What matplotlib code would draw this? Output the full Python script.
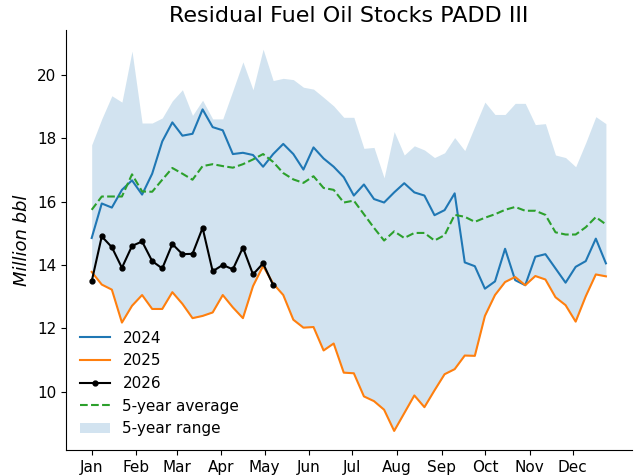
import numpy as np
import matplotlib
matplotlib.use("Agg")
import matplotlib.pyplot as plt

# weekly values, million bbl
y2024 = [14.85, 15.94, 15.81, 16.37, 16.67, 16.22, 16.88, 17.90, 18.50, 18.08,
         18.14, 18.91, 18.35, 18.25, 17.50, 17.54, 17.47, 17.10, 17.50, 17.82,
         17.50, 17.01, 17.71, 17.36, 17.10, 16.77, 16.19, 16.54, 16.08, 15.97,
         16.29, 16.58, 16.29, 16.19, 15.57, 15.73, 16.26, 14.08, 13.96, 13.25,
         13.48, 14.51, 13.52, 13.36, 14.26, 14.34, 13.89, 13.44, 13.94, 14.12,
         14.83, 14.05]
y2025 = [13.78, 13.38, 13.22, 12.18, 12.71, 13.05, 12.61, 12.61, 13.14, 12.77,
         12.32, 12.39, 12.50, 13.05, 12.66, 12.32, 13.33, 13.97, 13.41, 13.05,
         12.27, 12.02, 12.04, 11.30, 11.52, 10.60, 10.58, 9.85, 9.70, 9.43,
         8.76, 9.32, 9.88, 9.51, 10.04, 10.55, 10.71, 11.14, 11.13, 12.39,
         13.05, 13.46, 13.62, 13.36, 13.65, 13.54, 12.98, 12.73, 12.21, 13.01,
         13.70, 13.64]
y2026 = [13.48, 14.90, 14.56, 13.91, 14.60, 14.74, 14.12, 13.89, 14.66, 14.34,
         14.35, 15.17, 13.80, 14.00, 13.86, 14.55, 13.70, 14.05, 13.36]
avg5 = [15.74, 16.16, 16.16, 16.16, 16.86, 16.32, 16.31, 16.69, 17.06, 16.88,
        16.69, 17.12, 17.18, 17.12, 17.07, 17.18, 17.33, 17.50, 17.25, 16.90,
        16.70, 16.59, 16.80, 16.43, 16.37, 15.97, 16.03, 15.60, 15.17, 14.77,
        15.06, 14.85, 15.01, 15.01, 14.77, 14.94, 15.58, 15.52, 15.36, 15.49,
        15.60, 15.74, 15.83, 15.71, 15.71, 15.58, 15.03, 14.96, 14.96, 15.19,
        15.51, 15.28]
range_max = [17.79, 18.61, 19.34, 19.14, 20.75, 18.48, 18.48, 18.64, 19.18, 19.53,
             18.72, 19.20, 18.61, 18.61, 19.50, 20.41, 19.53, 20.81, 19.82, 19.89,
             19.85, 19.61, 19.55, 19.29, 19.02, 18.66, 18.66, 17.68, 17.71, 16.75,
             18.21, 17.47, 17.76, 17.63, 17.39, 17.54, 18.02, 17.61, 18.38, 19.14,
             18.75, 18.75, 19.10, 19.10, 18.43, 18.46, 17.47, 17.39, 17.10, 17.86,
             18.68, 18.46]
range_min = [13.78, 13.38, 13.22, 12.18, 12.71, 13.05, 12.61, 12.61, 13.14, 12.77,
             12.32, 12.39, 12.50, 13.05, 12.66, 12.32, 13.33, 13.97, 13.41, 13.05,
             12.27, 12.02, 12.04, 11.30, 11.52, 10.60, 10.58, 9.85, 9.70, 9.43,
             8.76, 9.32, 9.88, 9.51, 10.04, 10.55, 10.71, 11.14, 11.13, 12.39,
             13.05, 13.46, 13.62, 13.36, 13.65, 13.54, 12.98, 12.73, 12.21, 13.01,
             13.70, 13.64]
months = ["Jan", "Feb", "Mar", "Apr", "May", "Jun",
          "Jul", "Aug", "Sep", "Oct", "Nov", "Dec"]
month_start = [0, 31, 59, 90, 120, 151, 181, 212, 243, 273, 304, 334]

days = np.arange(len(y2024)) * 7

fig = plt.figure(figsize=(6.38, 4.75), dpi=100)
ax = fig.add_axes([0.1034, 0.0526, 0.8866, 0.884])

ax.fill_between(days, range_min, range_max, color="tab:blue", alpha=0.2,
                linewidth=0, label="5-year range")
ax.plot(days, y2024, color="tab:blue", lw=1.5, label="2024")
ax.plot(days, y2025, color="tab:orange", lw=1.5, label="2025")
ax.plot(days[:len(y2026)], y2026, color="black", lw=1.5, marker="o",
        markersize=3.5, label="2026")
ax.plot(days, avg5, color="tab:green", lw=1.5, ls="--", label="5-year average")

ax.set_xticks(month_start)
ax.set_xticklabels(months, fontsize=11)
ax.set_yticks([10, 12, 14, 16, 18, 20])
ax.tick_params(axis="y", labelsize=11)
ax.set_ylabel("Million bbl", fontsize=13, style="italic")
ax.set_title("Residual Fuel Oil Stocks PADD III", fontsize=16)
ax.spines["top"].set_visible(False)
ax.spines["right"].set_visible(False)

h, l = ax.get_legend_handles_labels()
order = [1, 2, 3, 4, 0]
ax.legend([h[i] for i in order], [l[i] for i in order], loc="lower left",
          frameon=False, fontsize=11)

fig.savefig("out.png", dpi=100)
